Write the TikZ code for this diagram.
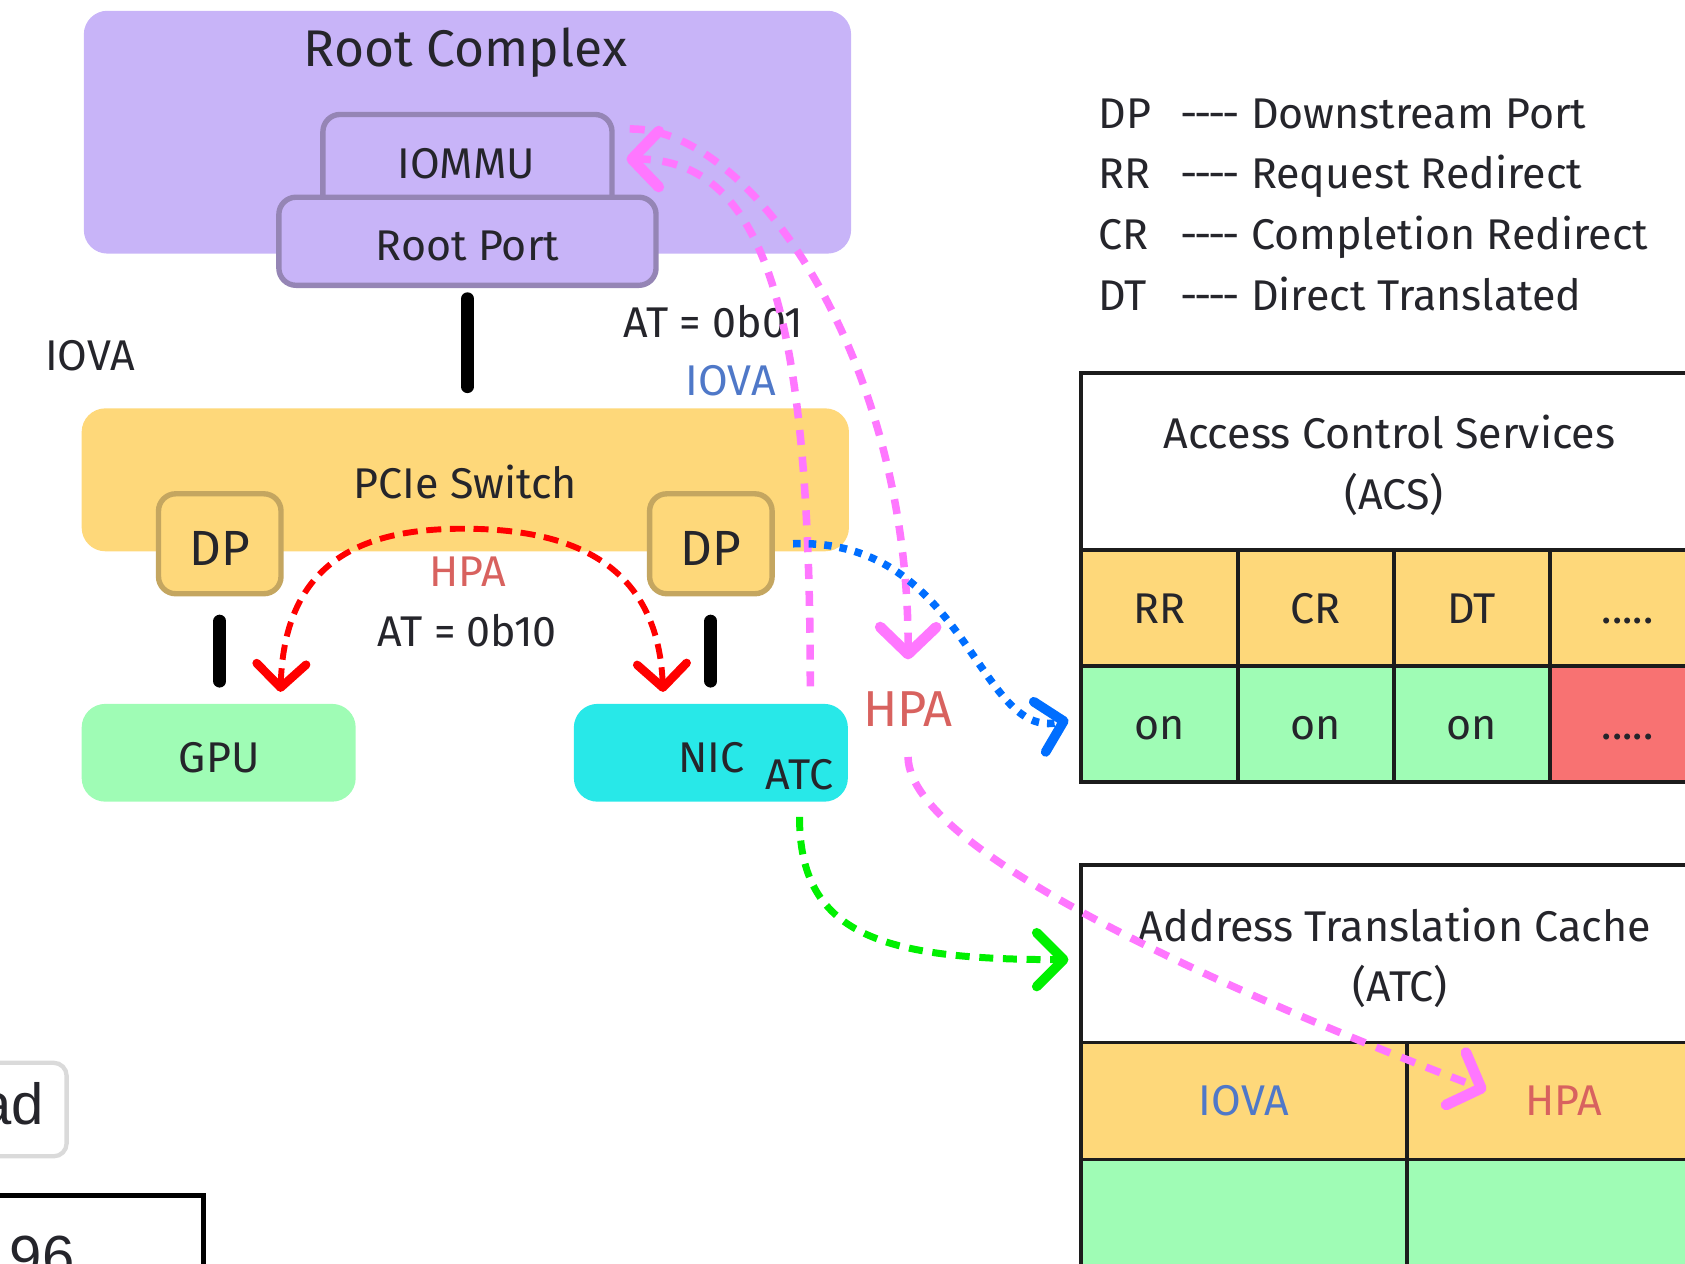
\documentclass[tikz,border=0pt]{standalone}
\usepackage{fontspec}
\setmainfont{Fira Sans}
\newfontfamily\plainsans{Liberation Sans}
\usetikzlibrary{arrows.meta}

\definecolor{ink}{HTML}{25252B}
\definecolor{lav}{HTML}{C8B4F8}
\definecolor{lavedge}{HTML}{9585B5}
\definecolor{sun}{HTML}{FED87A}
\definecolor{sunedge}{HTML}{C4A660}
\definecolor{mint}{HTML}{9FFCB5}
\definecolor{aqua}{HTML}{28E8E8}
\definecolor{coral}{HTML}{F87272}
\definecolor{pinkflow}{HTML}{FF77FF}
\definecolor{blueflow}{HTML}{006EFF}
\definecolor{greenflow}{HTML}{00F000}
\definecolor{hpared}{HTML}{D8625F}
\definecolor{iovablue}{HTML}{4F78C8}
\definecolor{tableline}{HTML}{1C1C1C}
\definecolor{boxgray}{HTML}{DADADA}

\newcommand\fsN{\fontsize{40}{56}\selectfont}
\newcommand\fsL{\fontsize{46}{54}\selectfont}
\newcommand\fsR{\fontsize{48}{56}\selectfont}
\newcommand\fsH{\fontsize{47}{54}\selectfont}
\newcommand\fsB{\plainsans\fontsize{54}{60}\selectfont}
\newcommand\hy{\hbox to 13pt{\hss-\hss}}
\newcommand\legdash{\hy\hy\hy\hy\hspace{12pt}}

\tikzset{
  txt/.style={font=\fsN, text=ink, inner sep=0pt, text height=27.6pt, text depth=0pt},
  bigtxt/.style={txt, font=\fsL, text height=31.7pt},
  panel/.style={rounded corners=22pt, inner sep=0pt},
  portbox/.style={rounded corners=16pt, inner sep=0pt, line width=5pt},
  wire/.style={line width=12pt, line cap=round, black},
  redflow/.style={red, line width=5.5pt, dash pattern=on 14pt off 8pt,
                  arrows={Straight Barb[length=22pt,width=46pt,round,line width=8pt]-Straight Barb[length=22pt,width=46pt,round,line width=8pt]}},
  pinkarrow/.style={pinkflow, line width=7pt, dash pattern=on 14pt off 11pt,
                    -{Straight Barb[length=25pt,width=52pt,round,line width=10pt]}},
  bluearrow/.style={blueflow, line width=7pt, dash pattern=on 7pt off 7.5pt,
                    -{Straight Barb[length=23pt,width=48pt,round,line width=9pt]}},
  greenarrow/.style={greenflow, line width=6.5pt, dash pattern=on 13pt off 9pt,
                     -{Straight Barb[length=25pt,width=50pt,round,line width=9pt]}},
  cell/.style={draw=tableline, line width=3.5pt, inner sep=0pt, font=\fsN, text=ink,
               text height=27.6pt, text depth=0pt},
}

\begin{document}
\begin{tikzpicture}[x=1pt, y=-1pt]
\useasboundingbox (0,0) rectangle (1568,1176);
\clip (0,0) rectangle (1568,1176);

% ---- Root complex with IOMMU and root port
\node[panel, fill=lav, minimum width=714pt, minimum height=226pt] (rc) at (435,123) {};
\node[txt, font=\fsR, text height=33pt] (rcT) at (433,45) {Root Complex};
\node[portbox, draw=lavedge, fill=lav, minimum width=269pt, minimum height=91pt] (iommu) at (435,152) {};
\node[txt] (iommuT) at (434,152) {IOMMU};
\node[portbox, draw=lavedge, fill=lav, minimum width=351pt, minimum height=82pt] (rp) at (435,224.5) {};
\node[txt] (rpT) at (435,229) {Root Port};

% ---- PCIe switch with downstream ports
\node[panel, fill=sun, minimum width=714pt, minimum height=133pt] (sw) at (433,446.5) {};
\node[txt] (swT) at (433,450) {PCIe Switch};
\node[portbox, draw=sunedge, fill=sun, minimum width=114pt, minimum height=93pt] (dpl) at (204.5,506) {};
\node[bigtxt] (dplT) at (204.5,510) {DP};
\node[portbox, draw=sunedge, fill=sun, minimum width=114pt, minimum height=93pt] (dpr) at (661.5,506) {};
\node[bigtxt] (dprT) at (661.5,510) {DP};

% ---- endpoints
\node[panel, fill=mint, minimum width=255pt, minimum height=91pt] (gpu) at (203.5,700.5) {};
\node[txt] (gpuT) at (204,705) {GPU};
\node[panel, fill=aqua, minimum width=255pt, minimum height=91pt] (nic) at (661.5,700.5) {};
\node[txt] (nicT) at (662,705) {NIC};
\node[txt] (atcT) at (744,721) {ATC};

% ---- physical links
\draw[wire, shorten <=10pt, shorten >=20pt] (rp.south) -- (rp.south |- sw.north);
\draw[wire, shorten <=23pt, shorten >=21pt] (dpl.south) -- (dpl.south |- gpu.north);
\draw[wire, shorten <=23pt, shorten >=21pt] (dpr.south) -- (dpr.south |- nic.north);

% ---- legend
\node[txt, anchor=west] (lgDP) at (1022,106) {DP};
\node[txt, anchor=west] (lgDPd) at (1100,106) {\legdash Downstream Port};
\node[txt, anchor=west] (lgRR) at (1022,162) {RR};
\node[txt, anchor=west] (lgRRd) at (1100,162) {\legdash Request Redirect};
\node[txt, anchor=west] (lgCR) at (1022,218) {CR};
\node[txt, anchor=west] (lgCRd) at (1100,218) {\legdash Completion Redirect};
\node[txt, anchor=west] (lgDT) at (1022,275) {DT};
\node[txt, anchor=west] (lgDTd) at (1100,275) {\legdash Direct Translated};

% ---- ACS table
\node[cell, fill=white, minimum width=581pt, minimum height=165pt] (acsHead) at (1296.5,429.5) {};
\node[txt] (acsT1) at (1293,404) {Access Control Services};
\node[txt] (acsT2) at (1297,460) {(ACS)};
\node[cell, fill=sun, minimum width=146pt, minimum height=108pt] (acsRR) at (1079,566) {RR};
\node[cell, fill=sun, minimum width=145pt, minimum height=108pt] (acsCR) at (1224.5,566) {CR};
\node[cell, fill=sun, minimum width=145pt, minimum height=108pt] (acsDT) at (1369.5,566) {DT};
\node[cell, fill=sun, minimum width=145pt, minimum height=108pt] (acsMore) at (1514.5,566) {.....};
\node[cell, fill=mint, minimum width=146pt, minimum height=108pt] (acsRRon) at (1079,674) {on};
\node[cell, fill=mint, minimum width=145pt, minimum height=108pt] (acsCRon) at (1224.5,674) {on};
\node[cell, fill=mint, minimum width=145pt, minimum height=108pt] (acsDTon) at (1369.5,674) {on};
\node[cell, fill=coral, minimum width=145pt, minimum height=108pt] (acsMoreon) at (1514.5,674) {.....};

% ---- ATC table
\node[cell, fill=white, minimum width=595pt, minimum height=165pt] (atcHead) at (1303.5,887.5) {};
\node[txt] (atcT1) at (1298,862) {Address Translation Cache};
\node[txt] (atcT2) at (1303,918) {(ATC)};
\node[cell, fill=sun, text=iovablue, minimum width=303pt, minimum height=109pt] (atcIova) at (1157.5,1024.5) {IOVA};
\node[cell, fill=sun, text=hpared, minimum width=292pt, minimum height=109pt] (atcHpa) at (1455,1024.5) {HPA};
\node[cell, fill=mint, minimum width=303pt, minimum height=109pt] (atcIovaV) at (1157.5,1133.5) {};
\node[cell, fill=mint, minimum width=292pt, minimum height=109pt] (atcHpaV) at (1455,1133.5) {};

% ---- address labels
\node[txt] (iovaL) at (84,331) {IOVA};
\node[txt] (at01) at (664,300) {AT = 0b01};
\node[txt, text=iovablue] (iovaUp) at (680,354) {IOVA};
\node[txt, text=hpared] (hpaArc) at (435,532) {HPA};
\node[txt] (at10) at (435,588) {AT = 0b10};
\node[txt, font=\fsH, text height=32.4pt, text=hpared] (hpaBig) at (845,660) {HPA};

% ---- partial widgets at the lower left
\node[draw=boxgray, line width=4pt, rounded corners=12pt, minimum width=120pt,
      minimum height=87pt, inner sep=0pt] (adbox) at (2,1032.5) {};
\node[font=\fsB, text=ink, inner sep=0pt, anchor=east] (adT) at (41,1027) {ad};
\node[draw=black, line width=5pt, minimum width=247pt, minimum height=135pt,
      inner sep=0pt] (numbox) at (66,1180) {};
\node[font=\fsB, text=ink, inner sep=0pt, anchor=west] (numT) at (9,1169) {96};

% ---- flows
\coordinate (gpuTip) at ([xshift=57.5pt,yshift=11pt]gpu.north);
\coordinate (nicTip) at ([xshift=-44.5pt,yshift=11pt]nic.north);
\draw[redflow] (gpuTip) .. controls (265,520) and (340,492) .. (431,492)
      .. controls (525,492) and (612,520) .. (nicTip);

\draw[pinkarrow] ([xshift=92.5pt,yshift=16pt]nic.north)
      .. controls (754,300) and (715,148) .. ([xshift=11pt,yshift=4pt]iommu.east);
\draw[pinkarrow] ([xshift=14pt,yshift=32pt]iommu.east)
      .. controls (700,118) and (846,335) .. ([yshift=30pt]hpaBig.north);
\draw[pinkarrow] ([yshift=-28pt]hpaBig.south)
      .. controls (846,800) and (1200,945) .. ([xshift=-72pt,yshift=10pt]atcHpa.center);

\draw[bluearrow] ([xshift=17pt]dpr.east)
      .. controls (900,500) and (910,690) .. ([xshift=-10pt,yshift=4pt]acsRRon.west);

\draw[greenarrow] ([xshift=82.5pt,yshift=-14pt]nic.south)
      .. controls (744,870) and (820,893) .. ([xshift=-10pt,yshift=-5.5pt]atcHead.west);
\end{tikzpicture}
\end{document}
